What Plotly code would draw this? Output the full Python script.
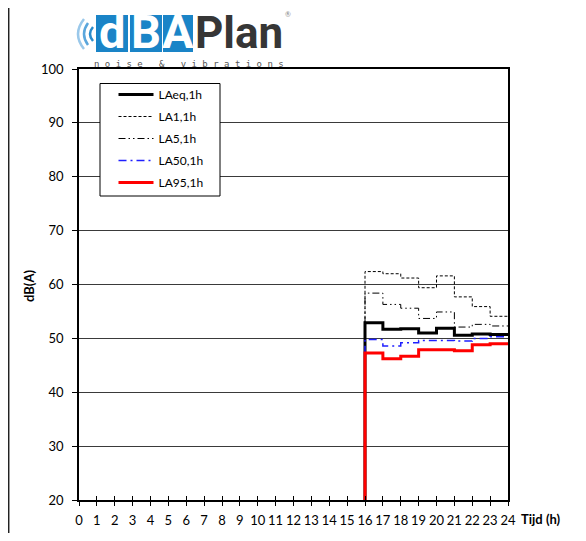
import plotly.graph_objects as go

# ---------------- data ----------------
hours = list(range(0, 24))
x_ticks = list(range(0, 25))
laeq = [0]*16 + [52.9, 51.7, 51.8, 51.0, 51.9, 50.6, 50.8, 50.7]
la1  = [0]*16 + [62.4, 62.0, 61.2, 59.4, 61.6, 57.7, 55.9, 54.1]
la5  = [0]*16 + [58.4, 56.3, 55.6, 53.7, 54.9, 52.1, 52.6, 52.3]
la50 = [0]*16 + [49.8, 48.6, 49.2, 49.6, 49.6, 49.5, 50.0, 50.3]
la95 = [0]*16 + [47.3, 46.2, 46.7, 47.9, 47.9, 47.7, 48.8, 49.0]
names = ["LAeq,1h", "LA1,1h", "LA5,1h", "LA50,1h", "LA95,1h"]

# ---------------- layout geometry ----------------
# the page body has an 8px margin, so figure pixel = window pixel - 8
OFF = 8
W, H = 586 - OFF, 541 - 2 * OFF
PL, PR, PT, PB = 79, 508, 69, 500          # plot area in window pixels


def fx(x):
    return (x - PL) / (PR - PL)


def fy(y):
    return (PB - y) / (PB - PT)


FONT = "Lato, Calibri, 'Open Sans', sans-serif"
LOGO = "Roboto, 'Liberation Sans', sans-serif"

styles = [
    dict(color="black", width=3, dash="solid"),
    dict(color="black", width=1, dash="3px,2px"),
    dict(color="black", width=1, dash="7px,3px,1.5px,3px,1.5px,3px"),
    dict(color="#1f1fff", width=1.5, dash="8px,4px,2px,4px"),
    dict(color="#ff0000", width=3, dash="solid"),
]

fig = go.Figure()
xs = hours + [24]
for i, (nm, vals, st) in enumerate(zip(names, [laeq, la1, la5, la50, la95], styles)):
    fig.add_trace(go.Scatter(
        x=xs, y=vals + [vals[-1]], mode="lines", name=nm,
        line=dict(shape="hv", **st), legendgroup=str(i),
    ))

# dummy trace for the inside half of the crossing x ticks
fig.add_trace(go.Scatter(x=[0], y=[20], xaxis="x2", mode="markers",
                         marker=dict(opacity=0), showlegend=False, hoverinfo="skip"))

shapes = []
annotations = []


def ann(x, y, text, size, color="black", family=FONT, xa="center", ya="middle", **kw):
    annotations.append(dict(xref="paper", yref="paper", x=fx(x), y=fy(y), text=text,
                            xanchor=xa, yanchor=ya, showarrow=False,
                            font=dict(family=family, size=size, color=color), **kw))


# chart frame (left edge)
shapes.append(dict(type="line", xref="paper", yref="paper", x0=fx(8.7), x1=fx(8.7),
                   y0=fy(0), y1=fy(545), line=dict(color="#222", width=1.5)))

# legend box
shapes.append(dict(type="rect", xref="paper", yref="paper", x0=fx(100), x1=fx(220),
                   y0=fy(196), y1=fy(83.5), fillcolor="white", layer="above",
                   line=dict(color="black", width=1)))

# ---- logo ----
blue = "#1a84c7"
for (x0, x1) in [(96, 128), (130, 162), (163, 193)]:
    shapes.append(dict(type="rect", xref="paper", yref="paper", x0=fx(x0), x1=fx(x1),
                       y0=fy(52), y1=fy(15), fillcolor=blue, line=dict(width=0)))
for (xc, ch) in [(112, "d"), (146, "B"), (178, "A")]:
    ann(xc, 52, f"<b>{ch}</b>", 47, "white", LOGO, "center", "bottom", yshift=-9)
ann(193, 52, "<b>Plan</b>", 44, "#363636", LOGO, "left", "bottom", yshift=-9)
ann(288, 14, "®", 7, "#888")
ann(189, 64, " ".join("noise & vibrations"), 9, "#555", "'DejaVu Sans Mono', monospace")
for (xl, h, dx, col) in [(78, 15, 6, "#9ac8ea"), (84, 11, 4, "#5aa6dc"), (90, 7, 3, "#2a8ccc")]:
    cy = 34
    shapes.append(dict(type="path", xref="paper", yref="paper",
                       path=f"M{fx(xl + dx)},{fy(cy - h)} Q{fx(xl - dx)},{fy(cy)} {fx(xl + dx)},{fy(cy + h)}",
                       line=dict(color=col, width=2.5)))

# axis titles
ann(519, 519, "<b>Tijd (h)</b>", 13, xa="left")
ann(29, 286, "<b>dB(A)</b>", 13, textangle=-90)

fig.update_layout(
    width=W, height=H,
    margin=dict(l=PL - OFF, r=W - (PR - OFF), t=PT - OFF, b=H - (PB - OFF), pad=0, autoexpand=False),
    paper_bgcolor="white", plot_bgcolor="white",
    font=dict(family=FONT, size=13, color="black"),
    showlegend=True,
    legend=dict(x=fx(113.5), y=fy(80), xanchor="left", yanchor="top",
                bgcolor="rgba(0,0,0,0)", borderwidth=0,
                font=dict(family=FONT, size=12, color="black"),
                traceorder="grouped", tracegroupgap=3, itemwidth=35),
    xaxis=dict(range=[0, 24], tickmode="array", tickvals=x_ticks, ticktext=[str(v) for v in x_ticks],
               showgrid=False, zeroline=False, showline=True, linecolor="black", linewidth=1.5,
               mirror=True, ticks="outside", ticklen=4, tickcolor="black", tickwidth=1,
               ticklabelstandoff=4, tickfont=dict(family=FONT, size=13)),
    xaxis2=dict(range=[0, 24], overlaying="x", anchor="y", tickmode="array", tickvals=x_ticks,
                showticklabels=False, showgrid=False, zeroline=False, ticks="inside",
                ticklen=4, tickcolor="black", tickwidth=1, side="bottom"),
    yaxis=dict(range=[20, 100], dtick=10, tick0=20, showgrid=True, gridcolor="#3a3a3a", gridwidth=1,
               zeroline=False, showline=True, linecolor="black", linewidth=1.5, mirror=True,
               ticks="outside", ticklen=5, tickcolor="black", ticklabelstandoff=6,
               tickfont=dict(family=FONT, size=13)),
    shapes=shapes, annotations=annotations,
)

fig.write_html("out.html")
